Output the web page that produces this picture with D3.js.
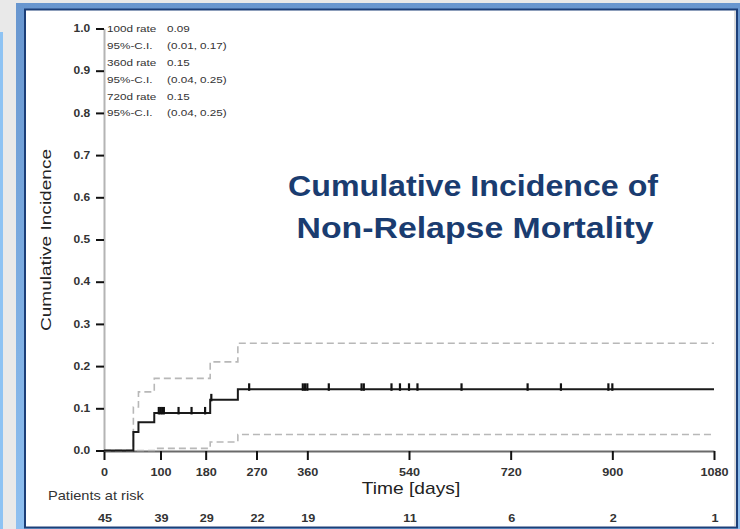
<!DOCTYPE html>
<html>
<head>
<meta charset="utf-8">
<script src="https://cdn.jsdelivr.net/npm/d3@7"></script>
<style>
  html, body { margin: 0; padding: 0; background: #e9e9e9; }
  svg { display: block; font-family: "Liberation Sans", Arial, sans-serif; }
</style>
</head>
<body>
<svg id="chart" width="740" height="529"></svg>
<script>
// Cumulative incidence of non-relapse mortality (step estimate with 95% bounds)
const eventDays = [0, 52, 61, 89, 188, 237];
const incidence = [0, 0.044, 0.067, 0.089, 0.12, 0.145];
const upperCI   = [0, 0.103, 0.139, 0.171, 0.21, 0.254];
const lowerCI   = [0, 0, 0, 0.005, 0.02, 0.038];
const censorDays = [97, 100, 103, 106, 132, 155, 179, 190, 257, 352, 356, 360,
                    398, 456, 460, 509, 524, 540, 555, 633, 750, 809, 893, 900];
const endDay = 1080;

const xTicks = [0, 100, 180, 270, 360, 540, 720, 900, 1080];
const yTicks = [0, 0.1, 0.2, 0.3, 0.4, 0.5, 0.6, 0.7, 0.8, 0.9, 1.0];
const riskDays = [0, 100, 180, 270, 360, 540, 720, 900, 1080];
const atRisk = [45, 39, 29, 22, 19, 11, 6, 2, 1];

const statLabels = ["100d rate", "95%-C.I.", "360d rate", "95%-C.I.", "720d rate", "95%-C.I."];
const statValues = ["0.09", "(0.01, 0.17)", "0.15", "(0.04, 0.25)", "0.15", "(0.04, 0.25)"];

const titleLines = ["Cumulative Incidence of", "Non-Relapse Mortality"];

const svg = d3.select("#chart");

// ---- slide frame ----
const defs = svg.append("defs");
const grad = defs.append("linearGradient").attr("id", "frameGrad")
  .attr("x1", 0).attr("y1", 0).attr("x2", 0).attr("y2", 1);
grad.append("stop").attr("offset", "0%").attr("stop-color", "#6896cf");
grad.append("stop").attr("offset", "100%").attr("stop-color", "#8fc0f0");

svg.append("rect").attr("x", 0).attr("y", 0).attr("width", 740).attr("height", 529).attr("fill", "#e9e9e9");
svg.append("rect").attr("x", 0).attr("y", 32).attr("width", 3).attr("height", 497).attr("fill", "#8ec3f3");
svg.append("rect").attr("x", 16).attr("y", 3).attr("width", 724).attr("height", 526).attr("fill", "url(#frameGrad)");
svg.append("rect").attr("x", 25).attr("y", 9.5).attr("width", 712).attr("height", 518)
  .attr("fill", "#ffffff").attr("stroke", "#1c3f78").attr("stroke-width", 2);
svg.append("line").attr("x1", 735).attr("x2", 735).attr("y1", 11).attr("y2", 526)
  .attr("stroke", "#cfcfcf").attr("stroke-width", 1.5);

// ---- scales ----
const x = d3.scaleLinear().domain([0, 1080]).range([104, 714]);
const y = d3.scaleLinear().domain([0, 1]).range([450.5, 28.5]);

// text with horizontal scaling
function label(x0, y0, txt, o) {
  return svg.append("text")
    .attr("transform", `translate(${x0},${y0}) scale(${o.sx || 1},1)`)
    .attr("text-anchor", o.anchor || "start")
    .style("font-size", o.size + "px")
    .style("font-weight", o.weight || "normal")
    .attr("fill", o.fill || "#222")
    .text(txt);
}

// ---- axes ----
const yAxis = svg.append("g").attr("transform", "translate(104,0)")
  .call(d3.axisLeft(y).tickValues(yTicks).tickSize(8).tickSizeOuter(0).tickFormat(d3.format(".1f")));
yAxis.select(".domain").attr("stroke", "#b4b4b4").attr("stroke-width", 2);
yAxis.selectAll(".tick line").attr("stroke", "#111").attr("stroke-width", 2);
yAxis.selectAll(".tick text")
  .attr("x", -11.5).attr("transform", "scale(1.2,1)")
  .style("font-size", "10px").style("font-weight", "bold")
  .style("font-family", "Liberation Sans, Arial, sans-serif").attr("fill", "#333");

const xAxis = svg.append("g").attr("transform", "translate(0,451)")
  .call(d3.axisBottom(x).tickValues(xTicks).tickSize(9).tickSizeOuter(0).tickFormat(d3.format("d")));
xAxis.select(".domain").attr("stroke", "#6a6a6a").attr("stroke-width", 2);
xAxis.selectAll(".tick line").attr("stroke", "#111").attr("stroke-width", 2);
xAxis.selectAll(".tick text")
  .attr("x", 0).attr("y", 17).attr("transform", "scale(1.15,1)")
  .style("font-size", "11px").style("font-weight", "bold")
  .style("font-family", "Liberation Sans, Arial, sans-serif").attr("fill", "#333");

// ---- curves ----
function stepPoints(vals) {
  const pts = eventDays.map((d, i) => [d, vals[i]]);
  pts.push([endDay, vals[vals.length - 1]]);
  return pts;
}
const stepLine = d3.line().x(d => x(d[0])).y(d => y(d[1])).curve(d3.curveStepAfter);

svg.append("path").datum(stepPoints(lowerCI)).attr("d", stepLine)
  .attr("fill", "none").attr("stroke", "#b8b8b8").attr("stroke-width", 1.6).attr("stroke-dasharray", "7,4");
svg.append("path").datum(stepPoints(upperCI)).attr("d", stepLine)
  .attr("fill", "none").attr("stroke", "#b8b8b8").attr("stroke-width", 1.6).attr("stroke-dasharray", "7,4");
svg.append("path").datum(stepPoints(incidence)).attr("d", stepLine)
  .attr("fill", "none").attr("stroke", "#1a1a1a").attr("stroke-width", 2);

// censoring marks
function valueAt(day) {
  let v = 0;
  eventDays.forEach((d, i) => { if (d <= day) v = incidence[i]; });
  return v;
}
svg.append("g").selectAll("line").data(censorDays).join("line")
  .attr("x1", d => x(d)).attr("x2", d => x(d))
  .attr("y1", d => y(valueAt(d)) + 1.5)
  .attr("y2", d => y(valueAt(d)) - 6)
  .attr("stroke", "#111").attr("stroke-width", 2.2);

// ---- estimate summary ----
statLabels.forEach((s, i) => {
  const yy = 32.3 + i * 16.8;
  label(107, yy, s, { size: 9, sx: 1.3, fill: "#333" });
  label(167, yy, statValues[i], { size: 9, sx: 1.3, fill: "#333" });
});

// ---- axis titles ----
label(411, 494, "Time [days]", { size: 16, sx: 1.2, anchor: "middle", fill: "#222" });
svg.append("text")
  .attr("transform", "translate(51,240) rotate(-90)")
  .attr("text-anchor", "middle")
  .attr("textLength", 182).attr("lengthAdjust", "spacingAndGlyphs")
  .style("font-size", "15px").attr("fill", "#222")
  .text("Cumulative Incidence");

// ---- patients at risk ----
label(48, 500, "Patients at risk", { size: 12.5, sx: 1.17, fill: "#333" });
riskDays.forEach((d, i) => {
  label(x(d) + 1, 521.5, String(atRisk[i]), { size: 11, sx: 1.15, anchor: "middle", weight: "bold", fill: "#333" });
});

// ---- title ----
const titleWidths = [370, 357];
titleLines.forEach((t, i) => {
  svg.append("text")
    .attr("x", 473 + i * 2).attr("y", 196 + i * 42)
    .attr("text-anchor", "middle")
    .attr("textLength", titleWidths[i]).attr("lengthAdjust", "spacingAndGlyphs")
    .style("font-size", "29px").style("font-weight", "bold")
    .attr("fill", "#1a3c70")
    .text(t);
});
</script>
</body>
</html>
